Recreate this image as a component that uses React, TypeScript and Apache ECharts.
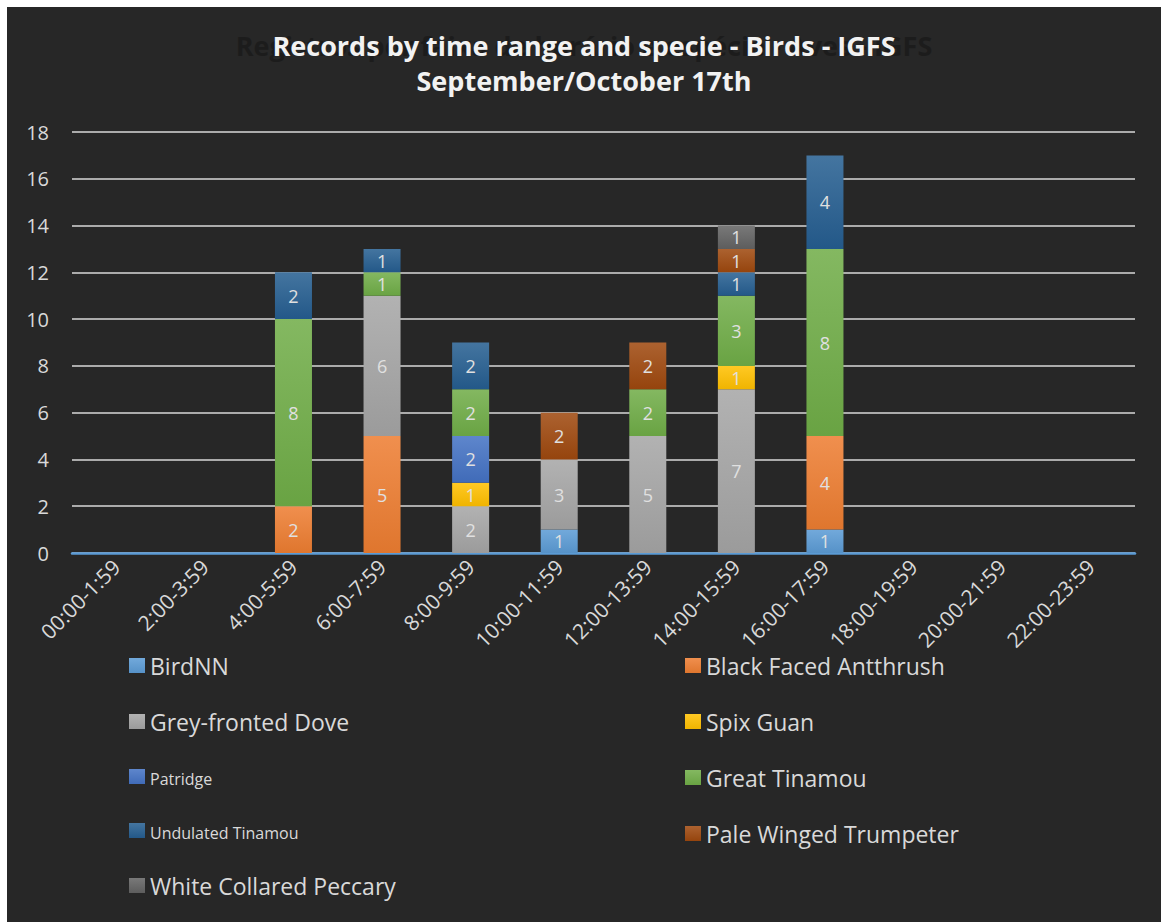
import React, { useEffect, useRef } from "react";
import * as echarts from "echarts";

// Time ranges on the x axis
const timeRanges = [
  "00:00-1:59", "2:00-3:59", "4:00-5:59", "6:00-7:59", "8:00-9:59", "10:00-11:59",
  "12:00-13:59", "14:00-15:59", "16:00-17:59", "18:00-19:59", "20:00-21:59", "22:00-23:59",
];

// Records per species and time range (null = no record)
const birdNN = [null, null, null, null, null, 1, null, null, 1, null, null, null];
const blackFacedAntthrush = [null, null, 2, 5, null, null, null, null, 4, null, null, null];
const greyFrontedDove = [null, null, null, 6, 2, 3, 5, 7, null, null, null, null];
const spixGuan = [null, null, null, null, 1, null, null, 1, null, null, null, null];
const patridge = [null, null, null, null, 2, null, null, null, null, null, null, null];
const greatTinamou = [null, null, 8, 1, 2, null, 2, 3, 8, null, null, null];
const undulatedTinamou = [null, null, 2, 1, 2, null, null, 1, 4, null, null, null];
const paleWingedTrumpeter = [null, null, null, null, null, 2, 2, 1, null, null, null, null];
const whiteCollaredPeccary = [null, null, null, null, null, null, null, 1, null, null, null, null];

const yTicks = [0, 2, 4, 6, 8, 10, 12, 14, 16, 18];

const speciesList = [
  { name: "BirdNN", data: birdNN, color: "#5b9bd5" },
  { name: "Black Faced Antthrush", data: blackFacedAntthrush, color: "#ed7d31" },
  { name: "Grey-fronted Dove", data: greyFrontedDove, color: "#a5a5a5" },
  { name: "Spix Guan", data: spixGuan, color: "#ffc000" },
  { name: "Patridge", data: patridge, color: "#4472c4" },
  { name: "Great Tinamou", data: greatTinamou, color: "#70ad47" },
  { name: "Undulated Tinamou", data: undulatedTinamou, color: "#255e91" },
  { name: "Pale Winged Trumpeter", data: paleWingedTrumpeter, color: "#9e480e" },
  { name: "White Collared Peccary", data: whiteCollaredPeccary, color: "#636363" },
];

const leftLegend = ["BirdNN", "Grey-fronted Dove", "Patridge", "Undulated Tinamou", "White Collared Peccary"];
const rightLegend = ["Black Faced Antthrush", "Spix Guan", "Great Tinamou", "Pale Winged Trumpeter"];
const smallLegendNames = ["Patridge", "Undulated Tinamou"];

const FONT = "'Open Sans', Lato, sans-serif";

function mix(hex: string, target: number, t: number): string {
  const n = parseInt(hex.slice(1), 16);
  const r = (n >> 16) & 255, g = (n >> 8) & 255, b = n & 255;
  const f = (c: number) => Math.round(c + (target - c) * t);
  return `rgb(${f(r)},${f(g)},${f(b)})`;
}

function barFill(hex: string) {
  return new echarts.graphic.LinearGradient(0, 0, 0, 1, [
    { offset: 0, color: mix(hex, 255, 0.14) },
    { offset: 1, color: mix(hex, 0, 0.06) },
  ]);
}

function legendFormatter(name: string) {
  return smallLegendNames.includes(name) ? `{s|${name}}` : `{n|${name}}`;
}

const legendBase = {
  orient: "vertical" as const,
  icon: "rect",
  padding: 0,
  itemWidth: 16,
  itemHeight: 15,
  itemGap: 33,
  formatter: legendFormatter,
  textStyle: {
    color: "#d9d9d9",
    fontFamily: FONT,
    rich: {
      n: { fontSize: 23, lineHeight: 22, color: "#d9d9d9", fontFamily: FONT },
      s: { fontSize: 16, lineHeight: 22, color: "#d9d9d9", fontFamily: FONT, padding: [5, 0, 0, 0] },
    },
  },
  selectedMode: false,
};

export default function App() {
  const ref = useRef<HTMLDivElement>(null);

  useEffect(() => {
    if (!ref.current) return;
    const chart = echarts.init(ref.current, undefined, { renderer: "svg" });

    const series = speciesList.map((s) => ({
      name: s.name,
      type: "bar",
      stack: "total",
      barWidth: 37,
      data: s.data,
      itemStyle: { color: barFill(s.color), borderWidth: 0 },
      label: {
        show: true,
        position: "inside",
        color: "#e0e0e0",
        fontSize: 18,
        lineHeight: 18,
        fontFamily: FONT,
        formatter: (p: any) => (p.value == null ? "" : String(p.value)),
      },
      emphasis: { disabled: true },
    }));

    chart.setOption({
      animation: false,
      backgroundColor: "#272727",
      color: speciesList.map((s) => s.color),
      graphic: [
        {
          type: "text",
          left: "center",
          top: 25,
          z: 1,
          style: {
            text: "Registros por faixa de horário e espécie - Aves - IGFS",
            fill: "#1c1c1c",
            font: `bold 27px ${FONT}`,
          },
        },
        {
          type: "text",
          left: "center",
          top: 25,
          z: 2,
          style: {
            text: "Records by time range and specie - Birds - IGFS",
            fill: "#f2f2f2",
            font: `bold 27px ${FONT}`,
          },
        },
        {
          type: "text",
          left: "center",
          top: 60,
          z: 2,
          style: {
            text: "September/October 17th",
            fill: "#f2f2f2",
            font: `bold 27px ${FONT}`,
          },
        },
      ],
      legend: [
        { ...legendBase, data: leftLegend, left: 122, top: 647 },
        { ...legendBase, data: rightLegend, left: 678, top: 647 },
      ],
      grid: { left: 65, right: 26, top: 125, bottom: 369, containLabel: false },
      xAxis: {
        type: "category",
        data: timeRanges,
        axisLine: { lineStyle: { color: "#5b9bd5", width: 2.5 } },
        axisTick: { show: false },
        axisLabel: {
          rotate: 45,
          interval: 0,
          margin: 10,
          padding: [16, 0, 0, 0],
          color: "#d9d9d9",
          fontSize: 21,
          fontFamily: FONT,
        },
      },
      yAxis: {
        type: "value",
        min: yTicks[0],
        max: yTicks[yTicks.length - 1],
        interval: 2,
        axisLine: { show: false },
        axisTick: { show: false },
        axisLabel: { color: "#d9d9d9", fontSize: 20, fontFamily: FONT, margin: 23 },
        splitLine: { lineStyle: { color: "#d9d9d9", width: 1.5 } },
      },
      series,
    });

    return () => chart.dispose();
  }, []);

  return (
    <div style={{ position: "absolute", left: 0, top: 0, width: 1161, height: 922, background: "#ffffff" }}>
      <div ref={ref} style={{ position: "absolute", left: 7, top: 7, width: 1154, height: 915 }} />
    </div>
  );
}
